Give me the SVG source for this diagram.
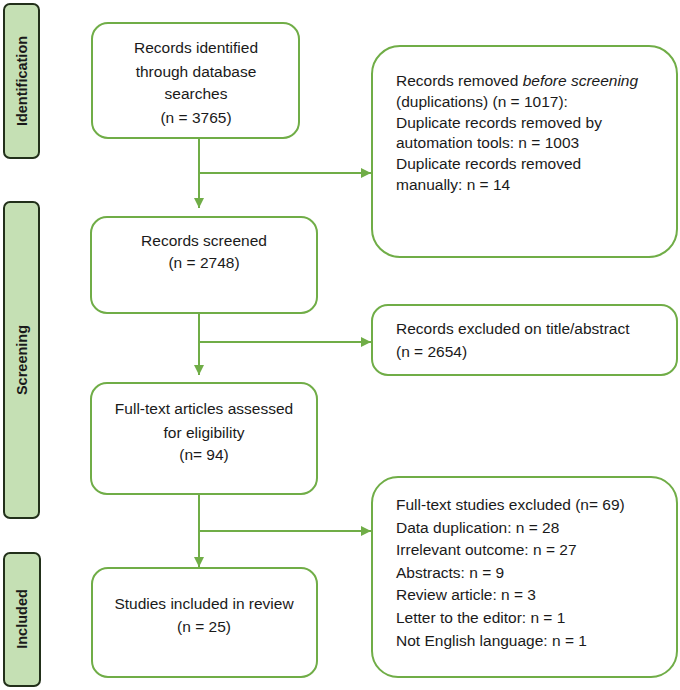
<svg xmlns="http://www.w3.org/2000/svg" width="680" height="690" viewBox="0 0 680 690">
<style>
.side{fill:#c5e0b4;stroke:#22301a;stroke-width:2}
.side-t{font-family:"Liberation Sans",Arial,sans-serif;font-size:14.5px;font-weight:bold;fill:#1a1a1a;text-anchor:middle;dominant-baseline:central}
.box{fill:#ffffff;stroke:#70ad47;stroke-width:2}
.t{font-family:"Liberation Sans",Arial,sans-serif;font-size:15.5px;fill:#1a1a1a}
.c{text-anchor:middle}
.conn{stroke:#70ad47;stroke-width:2;fill:none}
</style>
<defs>
<marker id="ah" viewBox="0 0 10 10" refX="10" refY="5" markerWidth="5" markerHeight="5" orient="auto" markerUnits="strokeWidth">
<path d="M0,0 L10,5 L0,10 z" fill="#70ad47"/>
</marker>
</defs>
<rect width="680" height="690" fill="#ffffff"/>
<g id="phase-identification">
<rect class="side" x="4" y="4" width="35" height="154" rx="6"/>
<text class="side-t" transform="translate(21.5,81) rotate(-90)">Identification</text>
</g>
<g id="phase-screening">
<rect class="side" x="4" y="202" width="35" height="316" rx="6"/>
<text class="side-t" transform="translate(21.5,360) rotate(-90)">Screening</text>
</g>
<g id="phase-included">
<rect class="side" x="4" y="553" width="36" height="133" rx="6"/>
<text class="side-t" transform="translate(22,619) rotate(-90)">Included</text>
</g>
<g id="n-identified">
<rect class="box" x="92" y="23" width="207" height="115" rx="16"/>
<text class="t c" x="196" y="53">Records identified</text>
<text class="t c" x="196" y="77">through database</text>
<text class="t c" x="196" y="99">searches</text>
<text class="t c" x="196" y="123">(n = 3765)</text>
</g>
<g id="n-removed">
<rect class="box" x="372" y="46" width="305" height="211" rx="28"/>
<text class="t" x="396" y="86">Records removed <tspan font-style="italic">before screening</tspan></text>
<text class="t" x="396" y="107">(duplications) (n = 1017):</text>
<text class="t" x="396" y="128">Duplicate records removed by</text>
<text class="t" x="396" y="148">automation tools: n = 1003</text>
<text class="t" x="396" y="169">Duplicate records removed</text>
<text class="t" x="396" y="190">manually: n = 14</text>
</g>
<g id="n-screened">
<rect class="box" x="91" y="217" width="226" height="96" rx="16"/>
<text class="t c" x="204" y="246">Records screened</text>
<text class="t c" x="204" y="268">(n = 2748)</text>
</g>
<g id="n-excluded-title">
<rect class="box" x="372" y="305" width="305" height="70" rx="16"/>
<text class="t" x="396" y="334">Records excluded on title/abstract</text>
<text class="t" x="396" y="357">(n = 2654)</text>
</g>
<g id="n-fulltext">
<rect class="box" x="91" y="383" width="226" height="111" rx="16"/>
<text class="t c" x="204" y="414">Full-text articles assessed</text>
<text class="t c" x="204" y="438">for eligibility</text>
<text class="t c" x="204" y="460">(n= 94)</text>
</g>
<g id="n-excluded-fulltext">
<rect class="box" x="372" y="477" width="305" height="200" rx="26"/>
<text class="t" x="396" y="510">Full-text studies excluded (n= 69)</text>
<text class="t" x="396" y="533">Data duplication: n = 28</text>
<text class="t" x="396" y="555">Irrelevant outcome: n = 27</text>
<text class="t" x="396" y="578">Abstracts: n = 9</text>
<text class="t" x="396" y="600">Review article: n = 3</text>
<text class="t" x="396" y="623">Letter to the editor: n = 1</text>
<text class="t" x="396" y="646">Not English language: n = 1</text>
</g>
<g id="n-included">
<rect class="box" x="92" y="568" width="225" height="109" rx="16"/>
<text class="t c" x="204" y="609">Studies included in review</text>
<text class="t c" x="204" y="632">(n = 25)</text>
</g>
<g id="connectors">
<line class="conn" x1="199" y1="138" x2="199" y2="208" marker-end="url(#ah)"/>
<line class="conn" x1="199" y1="173" x2="371" y2="173" marker-end="url(#ah)"/>
<line class="conn" x1="199" y1="313" x2="199" y2="375" marker-end="url(#ah)"/>
<line class="conn" x1="199" y1="342" x2="371" y2="342" marker-end="url(#ah)"/>
<line class="conn" x1="199" y1="494" x2="199" y2="567" marker-end="url(#ah)"/>
<line class="conn" x1="199" y1="531" x2="371" y2="531" marker-end="url(#ah)"/>
</g>
</svg>
